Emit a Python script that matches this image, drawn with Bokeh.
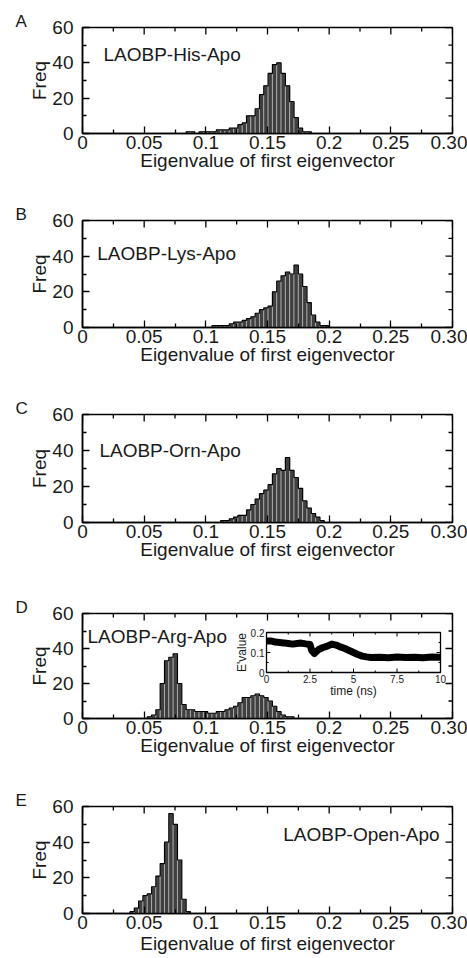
import numpy as np
from bokeh.plotting import figure
from bokeh.models import Range1d, LinearAxis, FixedTicker, Label, Title
from bokeh.layouts import column
from bokeh.embed import file_html
from bokeh.resources import INLINE
from bokeh.core.properties import value

# ---------------- data ----------------
BIN_WIDTH = 0.0035
x_ticks = [0, 0.05, 0.1, 0.15, 0.2, 0.25, 0.3]
x_tick_labels = ["0", "0.05", "0.1", "0.15", "0.2", "0.25", "0.30"]
x_minor = [0.025, 0.075, 0.125, 0.175, 0.225, 0.275]
y_ticks = [0, 20, 40, 60]
y_tick_labels = ["0", "20", "40", "60"]
y_minor = [10, 30, 50]

panel_letters = ["A", "B", "C", "D", "E"]
panel_names = ["LAOBP-His-Apo", "LAOBP-Lys-Apo", "LAOBP-Orn-Apo", "LAOBP-Arg-Apo", "LAOBP-Open-Apo"]

his_start = 0.084
his_counts = [1, 1, 0, 1, 1, 1, 1, 2, 2, 2, 3, 3, 5, 6, 10, 10, 14, 22, 27, 34, 39, 40, 34, 27, 18, 9, 3, 1, 1]

lys_start = 0.105
lys_counts = [1, 1, 1, 1, 2, 3, 3, 4, 5, 6, 8, 10, 11, 12, 20, 26, 29, 31, 30, 35, 30, 23, 14, 7, 3, 1, 1]

orn_start = 0.112
orn_counts = [1, 1, 2, 3, 4, 4, 7, 10, 13, 16, 18, 21, 27, 30, 29, 36, 29, 25, 19, 12, 8, 5, 3, 1]

arg_start = 0.0525
arg_counts = [1, 2, 5, 20, 33, 35, 37, 20, 8, 5, 5, 4, 4, 4, 3, 3, 4, 4, 5, 6, 7, 9, 12, 12, 13, 14, 13,
              12, 10, 7, 4, 2, 1, 1]

open_start = 0.0385
open_counts = [1, 3, 7, 10, 11, 15, 21, 28, 40, 56, 50, 30, 8, 1]

# inset (panel D): eigenvalue vs time
inset_time = [0, 0.25, 0.5, 0.75, 1.0, 1.25, 1.5, 1.75, 2.0, 2.25, 2.5, 2.6, 2.75, 3.0, 3.25, 3.5, 3.75,
              4.0, 4.25, 4.5, 4.75, 5.0, 5.25, 5.5, 5.75, 6.0, 6.5, 7.0, 7.5, 8.0, 8.5, 9.0, 9.5, 10.0]
inset_value = [0.157, 0.158, 0.152, 0.150, 0.148, 0.145, 0.142, 0.145, 0.147, 0.143, 0.140, 0.110, 0.095,
               0.115, 0.125, 0.132, 0.142, 0.137, 0.128, 0.120, 0.110, 0.100, 0.090, 0.082, 0.078, 0.075,
               0.076, 0.074, 0.077, 0.075, 0.076, 0.074, 0.077, 0.076]
inset_x_ticks = [0, 2.5, 5, 7.5, 10]
inset_x_labels = ["0", "2.5", "5", "7.5", "10"]
inset_x_minor = [1.25, 3.75, 6.25, 8.75]
inset_y_ticks = [0, 0.1, 0.2]
inset_y_labels = ["0", "0.1", "0.2"]
inset_y_minor = [0.05, 0.15]

# ---------------- style ----------------
FONT = "Liberation Sans"
TXT = "#1a1a1a"
W = 467
BL, BR = 82, 15
FRAME_W = W - BL - BR
FS = "19px"
MAJ, MIN = 7, 4

# (height, top border, bottom border) per panel
layout_spec = [(195, 27, 62), (195, 25, 63), (195, 24, 63), (195, 28, 62), (178, 26, 45)]
title_standoff = [-2, -2, -2, -2, 1]


def make_panel(i, start, counts):
    h, bt, bb = layout_spec[i]
    fh = h - bt - bb
    p = figure(width=W, height=h, x_range=Range1d(0, 0.3), y_range=Range1d(0, 60),
               output_backend="svg", toolbar_location=None,
               min_border_left=BL, min_border_right=BR, min_border_top=bt, min_border_bottom=bb,
               x_axis_location=None, y_axis_location=None)
    p.background_fill_color = "white"
    p.border_fill_color = "white"
    p.xgrid.visible = False
    p.ygrid.visible = False
    p.outline_line_color = "black"
    p.outline_line_width = 1.5

    def style_axis(ax):
        ax.axis_line_color = "black"
        ax.axis_line_width = 1.5
        ax.major_tick_in = MAJ
        ax.major_tick_out = 0
        ax.minor_tick_in = MIN
        ax.minor_tick_out = 0
        ax.major_tick_line_width = 1.3
        ax.minor_tick_line_width = 1.3
        ax.major_label_text_font = FONT
        ax.major_label_text_color = TXT
        ax.major_label_text_font_size = FS
        ax.axis_label_text_font = FONT
        ax.axis_label_text_font_size = FS
        ax.axis_label_text_font_style = "normal"
        ax.axis_label_text_color = TXT

    xb = LinearAxis(ticker=FixedTicker(ticks=x_ticks, minor_ticks=x_minor))
    style_axis(xb)
    xb.major_label_overrides = dict(zip(x_ticks, x_tick_labels))
    xb.major_label_standoff = 2
    xb.axis_label = "Eigenvalue of first eigenvector"
    xb.axis_label_standoff = title_standoff[i]
    p.add_layout(xb, "below")

    yl = LinearAxis(ticker=FixedTicker(ticks=y_ticks, minor_ticks=y_minor))
    style_axis(yl)
    yl.major_label_overrides = dict(zip(y_ticks, y_tick_labels))
    yl.major_label_standoff = 9
    yl.axis_label = "Freq"
    yl.axis_label_standoff = -1
    p.add_layout(yl, "left")

    # panel letter as a left-shifted title sitting on the frame's top edge
    p.add_layout(Title(text=panel_letters[i], align="left", offset=15 - BL, standoff=-6,
                       text_font=FONT, text_font_size="17px", text_font_style="normal",
                       text_color=TXT), "above")

    px_per_x = FRAME_W / 0.3
    px_per_y = fh / 60.0

    # mirrored inward ticks on top and right edges
    tx0, ty0, tx1, ty1 = [], [], [], []
    for v, L in [(t, MAJ) for t in x_ticks] + [(t, MIN) for t in x_minor]:
        tx0.append(v); tx1.append(v); ty0.append(60); ty1.append(60 - L / px_per_y)
    for v, L in [(t, MAJ) for t in y_ticks] + [(t, MIN) for t in y_minor]:
        tx0.append(0.3); tx1.append(0.3 - L / px_per_x); ty0.append(v); ty1.append(v)
    p.segment(x0=tx0, y0=ty0, x1=tx1, y1=ty1, line_color="black", line_width=1.3)

    # histogram
    counts = np.array(counts, dtype=float)
    left = start + BIN_WIDTH * np.arange(len(counts))
    right = left + BIN_WIDTH
    p.quad(left=left, right=right, bottom=0, top=counts, fill_color="#3f3f3f",
           line_color="#c8c8c8", line_width=0.6)
    sx = np.concatenate([[left[0]], left, [right[-1]]])
    sy = np.concatenate([[0], counts, [0]])
    p.step(x=sx, y=sy, mode="after", line_color="black", line_width=1.2)

    # panel name
    name_pos = [(0.017, 45, "left"), (0.012, 41.5, "left"), (0.0137, 40, "left"),
                (0.0041, 47, "left"), (0.2895, 44.5, "right")][i]
    p.add_layout(Label(x=name_pos[0], y=name_pos[1], text=panel_names[i], text_font=FONT,
                       text_font_size=FS, text_color=TXT, text_baseline="middle",
                       text_align=name_pos[2]))
    return p, fh


panels = []
data = [(his_start, his_counts), (lys_start, lys_counts), (orn_start, orn_counts),
        (arg_start, arg_counts), (open_start, open_counts)]
for i, (s, c) in enumerate(data):
    p, fh = make_panel(i, s, c)
    if i == 3:
        # inset mapped via extra ranges: inset box occupies px [184, 358] horizontally
        # and [46, 86] vertically (from frame bottom) inside the frame
        def rng(lo_px, hi_px, frame_px, vmin, vmax):
            sc = (vmax - vmin) / (hi_px - lo_px)
            return Range1d(vmin - lo_px * sc, vmax + (frame_px - hi_px) * sc)
        p.extra_x_ranges = {"ix": rng(184, 358, FRAME_W, 0, 10)}
        p.extra_y_ranges = {"iy": rng(46, 86, fh, 0, 0.2)}
        tx = 10 / 174.0   # ns per px
        ty = 0.2 / 40.0   # value per px
        kw = dict(x_range_name="ix", y_range_name="iy")
        p.quad(left=0, right=10, bottom=0, top=0.2, fill_color="white", line_color="black",
               line_width=1.3, **kw)
        p.line(x=inset_time, y=inset_value, line_color="black", line_width=7, line_join="round", **kw)
        xs0, ys0, xs1, ys1 = [], [], [], []
        for t, L in [(v, 4) for v in inset_x_ticks] + [(v, 2) for v in inset_x_minor]:
            xs0 += [t, t]; xs1 += [t, t]
            ys0 += [0, 0.2]; ys1 += [L * ty, 0.2 - L * ty]
        for v, L in [(v, 4) for v in inset_y_ticks] + [(v, 2) for v in inset_y_minor]:
            ys0 += [v, v]; ys1 += [v, v]
            xs0 += [0, 10]; xs1 += [L * tx, 10 - L * tx]
        p.segment(x0=xs0, y0=ys0, x1=xs1, y1=ys1, line_color="black", line_width=1, **kw)
        p.text(x=inset_x_ticks, y=[-2 * ty] * len(inset_x_ticks), text=inset_x_labels,
               text_font=value(FONT), text_font_size="10px", text_color=TXT,
               text_align="center", text_baseline="top", **kw)
        p.text(x=[-2 * tx] * len(inset_y_ticks), y=inset_y_ticks, text=inset_y_labels,
               text_font=value(FONT), text_font_size="10px", text_color=TXT,
               text_align="right", text_baseline="middle", **kw)
        p.text(x=[5], y=[-18 * ty], text=["time (ns)"], text_font=value(FONT), text_font_size="12px",
               text_color=TXT, text_align="center", text_baseline="middle", **kw)
        p.text(x=[-25 * tx], y=[0.1], text=["E'value"], text_font=value(FONT), text_font_size="12px",
               text_color=TXT, text_align="center", text_baseline="middle", angle=np.pi / 2, **kw)
    panels.append(p)

layout = column(*panels, spacing=0)
open("out.html", "w").write(file_html(layout, INLINE))
